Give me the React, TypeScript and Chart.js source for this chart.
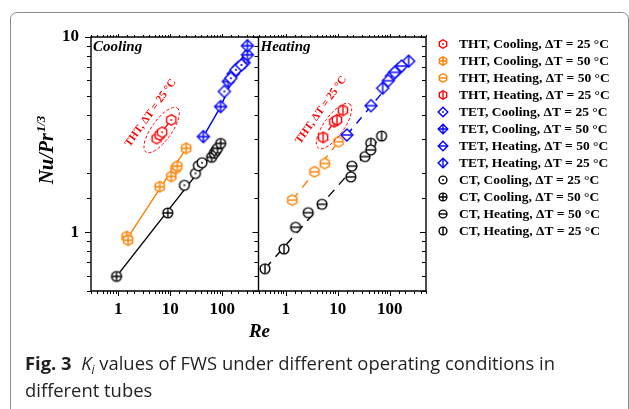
import React, { useEffect, useRef } from 'react';
import { Chart, registerables } from 'chart.js';

Chart.register(...registerables);

const RED = '#ff0000';
const ORANGE = '#ff8000';
const BLUE = '#0000ff';
const BLACK = '#000000';

// ---- data: [Re, Nu/Pr^(1/3)] ----
const thtCool25: number[][] = [[5.5, 3.02], [6.3, 3.15], [7.0, 3.25], [10.5, 3.76]];
const thtCool50: number[][] = [[1.45, 0.95], [1.55, 0.91], [6.3, 1.71], [10.5, 1.93], [12.7, 2.12], [13.7, 2.18], [20.3, 2.69]];
const thtHeat50: number[][] = [[1.34, 1.46], [3.58, 2.04], [5.65, 2.25], [10.4, 2.91]];
const thtHeat25: number[][] = [[5.24, 3.06], [8.6, 3.68], [9.7, 3.76], [12.6, 4.21]];
const tetCool25: number[][] = [[110, 5.26], [147, 6.15], [184, 6.79], [235, 7.19]];
const tetCool50: number[][] = [[43.5, 3.09], [93.4, 4.4], [131, 5.92], [163, 6.48], [206, 6.99], [265, 7.39], [306, 8.11], [306, 9.02]];
const tetHeat50: number[][] = [[15, 3.15], [43.8, 4.45], [94, 5.97], [125, 6.59], [169, 7.1]];
const tetHeat25: number[][] = [[73.3, 5.47], [108.6, 6.33], [146, 6.84], [232, 7.52]];
const ctCool25: number[][] = [[18.8, 1.74], [30.6, 2.0], [34.9, 2.19], [41, 2.27]];
const ctCool50: number[][] = [[0.93, 0.594], [9.0, 1.256], [62.7, 2.42], [70.5, 2.54], [76, 2.62], [81.5, 2.69], [93.5, 2.85]];
const ctHeat50: number[][] = [[1.55, 1.06], [2.71, 1.26], [5.0, 1.39], [17.9, 1.92], [18.8, 2.18], [33.6, 2.44], [43.3, 2.64]];
const ctHeat25: number[][] = [[0.40, 0.65], [0.93, 0.82], [43.3, 2.86], [70, 3.11]];

// ---- trend lines ----
const fitCoolCT: number[][] = [[0.93, 0.594], [93.5, 2.85]];
const fitCoolTHT50: number[][] = [[1.5, 0.93], [20.3, 2.69]];
const fitCoolTHT25: number[][] = [[5.5, 3.02], [10.5, 3.76]];
const fitCoolTET: number[][] = [[43.5, 3.09], [93.4, 4.4], [306, 9.02]];
const fitHeatCT: number[][] = [[0.40, 0.65], [70, 3.11]];
const fitHeatTHT50: number[][] = [[1.34, 1.46], [10.4, 2.91]];
const fitHeatTHT25: number[][] = [[5.24, 3.06], [12.6, 4.21]];
const fitHeatTET: number[][] = [[15, 3.15], [232, 7.52]];

// ---- axes ----
const xRange = [0.3, 500];
const yRange = [0.5, 10];
const xTickLabels = [1, 10, 100];
const yTickLabels = [1, 10];
const panelNames = ['Cooling', 'Heating'];

// annotation anchors (data coords): text centre, ellipse centre
const annotText = 'THT, ΔT = 25 °C';
const annotCoolText = [4.2, 4.08];
const annotCoolEllipse = [6.85, 3.34];
const annotHeatText = [4.8, 4.23];
const annotHeatEllipse = [8.5, 3.5];

type Shape = 'hex' | 'diamond' | 'circle';
type Deco = 'dot' | 'plus' | 'minus' | 'vbar';

const series: { label: string; data: number[][]; axis: string; shape: Shape; deco: Deco; color: string }[] = [
  { label: 'THT, Cooling, ΔT = 25 °C', data: thtCool25, axis: 'xc', shape: 'hex', deco: 'dot', color: RED },
  { label: 'THT, Cooling, ΔT = 50 °C', data: thtCool50, axis: 'xc', shape: 'hex', deco: 'plus', color: ORANGE },
  { label: 'THT, Heating, ΔT = 50 °C', data: thtHeat50, axis: 'xh', shape: 'hex', deco: 'minus', color: ORANGE },
  { label: 'THT, Heating, ΔT = 25 °C', data: thtHeat25, axis: 'xh', shape: 'hex', deco: 'vbar', color: RED },
  { label: 'TET, Cooling, ΔT = 25 °C', data: tetCool25, axis: 'xc', shape: 'diamond', deco: 'dot', color: BLUE },
  { label: 'TET, Cooling, ΔT = 50 °C', data: tetCool50, axis: 'xc', shape: 'diamond', deco: 'plus', color: BLUE },
  { label: 'TET, Heating, ΔT = 50 °C', data: tetHeat50, axis: 'xh', shape: 'diamond', deco: 'minus', color: BLUE },
  { label: 'TET, Heating, ΔT = 25 °C', data: tetHeat25, axis: 'xh', shape: 'diamond', deco: 'vbar', color: BLUE },
  { label: 'CT, Cooling, ΔT = 25 °C', data: ctCool25, axis: 'xc', shape: 'circle', deco: 'dot', color: BLACK },
  { label: 'CT, Cooling, ΔT = 50 °C', data: ctCool50, axis: 'xc', shape: 'circle', deco: 'plus', color: BLACK },
  { label: 'CT, Heating, ΔT = 50 °C', data: ctHeat50, axis: 'xh', shape: 'circle', deco: 'minus', color: BLACK },
  { label: 'CT, Heating, ΔT = 25 °C', data: ctHeat25, axis: 'xh', shape: 'circle', deco: 'vbar', color: BLACK },
];

const trends: { data: number[][]; axis: string; color: string; dash: number[] }[] = [
  { data: fitCoolCT, axis: 'xc', color: BLACK, dash: [] },
  { data: fitCoolTHT50, axis: 'xc', color: ORANGE, dash: [] },
  { data: fitCoolTHT25, axis: 'xc', color: RED, dash: [] },
  { data: fitCoolTET, axis: 'xc', color: BLUE, dash: [] },
  { data: fitHeatCT, axis: 'xh', color: BLACK, dash: [9, 7] },
  { data: fitHeatTHT50, axis: 'xh', color: ORANGE, dash: [9, 7] },
  { data: fitHeatTHT25, axis: 'xh', color: RED, dash: [5, 4] },
  { data: fitHeatTET, axis: 'xh', color: BLUE, dash: [8, 7] },
];

const SERIF = '"Liberation Serif", "Times New Roman", serif';

function makeMarker(shape: Shape, deco: Deco, color: string, scale: number): HTMLCanvasElement {
  const r = (shape === 'diamond' ? 6 : shape === 'hex' ? 5.3 : 4.9) * scale;
  const lw = 1.4;
  const size = Math.ceil(2 * r + lw + 4);
  const c = document.createElement('canvas');
  c.width = size;
  c.height = size;
  const ctx = c.getContext('2d') as CanvasRenderingContext2D;
  const cx = size / 2;
  const cy = size / 2;
  ctx.lineWidth = lw;
  ctx.strokeStyle = color;
  ctx.fillStyle = '#ffffff';
  ctx.beginPath();
  let hx = r;
  if (shape === 'circle') {
    ctx.arc(cx, cy, r, 0, Math.PI * 2);
  } else if (shape === 'diamond') {
    ctx.moveTo(cx, cy - r);
    ctx.lineTo(cx + r, cy);
    ctx.lineTo(cx, cy + r);
    ctx.lineTo(cx - r, cy);
    ctx.closePath();
  } else {
    for (let i = 0; i < 6; i++) {
      const a = (-90 + 60 * i) * Math.PI / 180;
      const px = cx + r * Math.cos(a);
      const py = cy + r * Math.sin(a);
      if (i === 0) ctx.moveTo(px, py); else ctx.lineTo(px, py);
    }
    ctx.closePath();
    hx = r * Math.cos(Math.PI / 6);
  }
  ctx.fill();
  ctx.stroke();
  ctx.beginPath();
  if (deco === 'dot') {
    ctx.fillStyle = color;
    ctx.arc(cx, cy, Math.max(0.9, r * 0.18), 0, Math.PI * 2);
    ctx.fill();
  } else {
    if (deco === 'plus' || deco === 'minus') {
      ctx.moveTo(cx - hx, cy);
      ctx.lineTo(cx + hx, cy);
    }
    if (deco === 'plus' || deco === 'vbar') {
      ctx.moveTo(cx, cy - r);
      ctx.lineTo(cx, cy + r);
    }
    ctx.stroke();
  }
  return c;
}

const approxIn = (v: number, list: number[]) => list.some((t) => Math.abs(t - v) / t < 1e-6);
const isMajor = (v: number) => Math.abs(Math.log10(v) - Math.round(Math.log10(v))) < 1e-6;

function makeDecorPlugin(legendMarkers: HTMLCanvasElement[]) {
  return {
    id: 'decor',
    afterDraw(chart: any) {
      const ctx: CanvasRenderingContext2D = chart.ctx;
      const area = chart.chartArea;
      const ys = chart.scales.y;
      const xc = chart.scales.xc;
      const xh = chart.scales.xh;
      const divider = xc.right;
      ctx.save();
      // frame
      ctx.strokeStyle = '#000';
      ctx.lineWidth = 1.4;
      ctx.beginPath();
      ctx.rect(area.left, area.top, area.right - area.left, area.bottom - area.top);
      ctx.moveTo(divider, area.top);
      ctx.lineTo(divider, area.bottom);
      ctx.stroke();
      // ticks
      ctx.lineWidth = 1;
      ctx.beginPath();
      for (const t of ys.ticks) {
        const py = Math.round(ys.getPixelForValue(t.value)) + 0.5;
        const len = isMajor(t.value) ? 6 : 4;
        for (const x0 of [area.left, divider, area.right]) {
          ctx.moveTo(x0, py);
          ctx.lineTo(x0 - len, py);
        }
      }
      for (const sc of [xc, xh]) {
        for (const t of sc.ticks) {
          const px = Math.round(sc.getPixelForValue(t.value)) + 0.5;
          const major = isMajor(t.value);
          ctx.moveTo(px, area.bottom);
          ctx.lineTo(px, area.bottom + (major ? 5 : 3));
          ctx.moveTo(px, area.top);
          ctx.lineTo(px, area.top - (major ? 3 : 2));
        }
      }
      ctx.stroke();

      // panel labels
      ctx.fillStyle = '#000';
      ctx.font = `italic bold 15px ${SERIF}`;
      ctx.textAlign = 'left';
      ctx.textBaseline = 'alphabetic';
      ctx.fillText(panelNames[0], area.left + 2, area.top + 14);
      ctx.fillText(panelNames[1], divider + 2, area.top + 14);

      // y title  Nu/Pr^(1/3)
      ctx.save();
      ctx.translate(53, (area.top + area.bottom) / 2 - 14);
      ctx.rotate(-Math.PI / 2);
      const mainFont = `italic bold 20px ${SERIF}`;
      const supFont = `italic bold 13px ${SERIF}`;
      ctx.font = mainFont;
      const w1 = ctx.measureText('Nu/Pr').width;
      ctx.font = supFont;
      const w2 = ctx.measureText('1/3').width;
      const start = -(w1 + w2 + 1) / 2;
      ctx.font = mainFont;
      ctx.fillText('Nu/Pr', start, 0);
      ctx.font = supFont;
      ctx.fillText('1/3', start + w1 + 1, -8);
      ctx.restore();

      // x title
      ctx.font = `italic bold 19px ${SERIF}`;
      ctx.textAlign = 'center';
      ctx.fillText('Re', (area.left + area.right) / 2 + 1, 337);

      // annotations
      const ang = -54.5 * Math.PI / 180;
      const annots = [
        { sc: xc, t: annotCoolText, e: annotCoolEllipse },
        { sc: xh, t: annotHeatText, e: annotHeatEllipse },
      ];
      for (const a of annots) {
        const tx = a.sc.getPixelForValue(a.t[0]);
        const ty = ys.getPixelForValue(a.t[1]);
        ctx.save();
        ctx.translate(tx, ty);
        ctx.rotate(ang);
        ctx.fillStyle = RED;
        ctx.font = `bold 11px ${SERIF}`;
        ctx.textAlign = 'center';
        ctx.textBaseline = 'middle';
        ctx.fillText(annotText, 0, 0);
        ctx.restore();
        const ex = a.sc.getPixelForValue(a.e[0]);
        const ey = ys.getPixelForValue(a.e[1]);
        ctx.save();
        ctx.strokeStyle = RED;
        ctx.lineWidth = 1;
        ctx.setLineDash([3, 2]);
        ctx.beginPath();
        ctx.ellipse(ex, ey, 27, 10, ang, 0, Math.PI * 2);
        ctx.stroke();
        ctx.restore();
      }

      // legend
      ctx.font = `bold 13.5px ${SERIF}`;
      ctx.textAlign = 'left';
      ctx.textBaseline = 'middle';
      ctx.fillStyle = '#000';
      series.forEach((s, i) => {
        const y = 44 + i * 17;
        const m = legendMarkers[i];
        ctx.drawImage(m, Math.round(443 - m.width / 2), Math.round(y - m.height / 2));
        ctx.fillText(s.label, 459, y + 1);
      });
      ctx.restore();
    },
  };
}

export default function App() {
  const ref = useRef<HTMLCanvasElement>(null);

  useEffect(() => {
    const canvas = ref.current;
    if (!canvas) return;
    const chartMarkers = series.map((s) => makeMarker(s.shape, s.deco, s.color, 1));
    const legendMarkers = series.map((s) => makeMarker(s.shape, s.deco, s.color, 0.8));

    const datasets: any[] = [
      ...series.map((s, i) => ({
        label: s.label,
        data: s.data.map(([x, y]) => ({ x, y })),
        xAxisID: s.axis,
        yAxisID: 'y',
        pointStyle: chartMarkers[i],
        pointRadius: 5,
        showLine: false,
        borderColor: s.color,
        backgroundColor: s.color,
        order: 0,
      })),
      ...trends.map((t) => ({
        label: '',
        data: t.data.map(([x, y]) => ({ x, y })),
        xAxisID: t.axis,
        yAxisID: 'y',
        showLine: true,
        pointRadius: 0,
        borderColor: t.color,
        borderWidth: 1.4,
        borderDash: t.dash,
        fill: false,
        order: 1,
      })),
    ];

    const tickFont = { family: SERIF, size: 17, weight: 'bold' as const };
    const xScale = () => ({
      type: 'logarithmic' as const,
      position: 'bottom' as const,
      stack: 'x',
      stackWeight: 1,
      min: xRange[0],
      max: xRange[1],
      grid: { display: false, drawTicks: false },
      border: { display: false },
      ticks: {
        autoSkip: false,
        maxRotation: 0,
        minRotation: 0,
        padding: 8,
        color: '#000',
        font: tickFont,
        callback: (v: any) => (approxIn(Number(v), xTickLabels) ? String(Math.round(Number(v))) : ''),
      },
      afterFit: (s: any) => {
        s.height = 118;
      },
    });

    const chart = new Chart(canvas, {
      type: 'scatter',
      data: { datasets },
      options: {
        responsive: false,
        animation: false,
        devicePixelRatio: 1,
        layout: { padding: { top: 37, right: 203, bottom: 0, left: 0 } },
        plugins: { legend: { display: false }, tooltip: { enabled: false } },
        scales: {
          xc: xScale(),
          xh: xScale(),
          y: {
            type: 'logarithmic',
            position: 'left',
            min: yRange[0],
            max: yRange[1],
            grid: { display: false, drawTicks: false },
            border: { display: false },
            ticks: {
              autoSkip: false,
              padding: 12,
              color: '#000',
              font: tickFont,
              callback: (v: any) => (approxIn(Number(v), yTickLabels) ? String(Math.round(Number(v))) : ''),
            },
            afterFit: (s: any) => {
              s.width = 91;
            },
          },
        } as any,
      },
      plugins: [makeDecorPlugin(legendMarkers)],
    } as any);

    return () => chart.destroy();
  }, []);

  return (
    <div style={{ position: 'absolute', left: 0, top: 0, width: 629, height: 409, overflow: 'hidden', background: '#fff' }}>
      <div
        style={{
          position: 'absolute',
          left: 10,
          top: 12,
          width: 619,
          height: 430,
          boxSizing: 'border-box',
          border: '1.5px solid #8c8c8c',
          borderRadius: 7,
        }}
      />
      <canvas ref={ref} width={629} height={409} style={{ position: 'absolute', left: 0, top: 0 }} />
      <div
        style={{
          position: 'absolute',
          left: 25,
          top: 351,
          fontFamily: '"Open Sans", sans-serif',
          fontSize: 18.4,
          lineHeight: '24px',
          color: '#231f20',
          whiteSpace: 'nowrap',
        }}
      >
        <b>Fig. 3</b>
        {'\u00a0\u00a0'}
        <i>K</i>
        <i style={{ fontSize: 12, position: 'relative', top: 4 }}>i</i>
        {' values of FWS under different operating conditions in'}
        <br />
        {'different tubes'}
      </div>
    </div>
  );
}
